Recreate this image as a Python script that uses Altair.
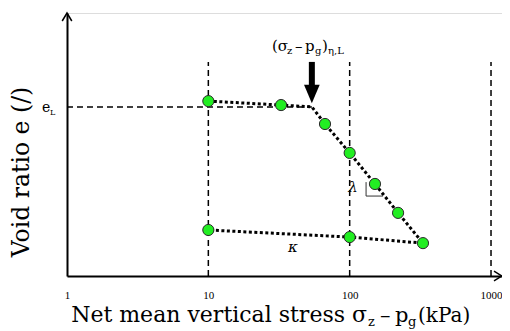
import altair as alt
import pandas as pd

# ---------------- data ----------------
stress = [10, 32.7, 54, 66.9, 100, 151, 220, 330, 100, 10]          # kPa
void_ratio = [0.665, 0.650, 0.643, 0.578, 0.468, 0.350, 0.240, 0.125, 0.148, 0.175]
measured = [True, True, False, True, True, True, True, True, True, True]
tick_values = [1, 10, 100, 1000]
guide_x = [10, 100, 1000]
guide_top = 0.814
e_L = 0.643
yield_stress = 54
X_MIN, X_MAX = 1, 1196
Y_MIN, Y_MAX = 0, 1
# lambda slope triangle corners (data units)
tri_x = [130.6, 130.6, 172]
tri_e = [0.357, 0.304, 0.304]

FONT = "DejaVu Serif"
TICK_FONT = "Liberation Serif"
OX, OY = 67, 13  # page position of plot origin (for outside-plot text)

df = pd.DataFrame({"s": stress, "e": void_ratio, "m": measured, "i": list(range(len(stress)))})
one = pd.DataFrame({"a": [0]})

xscale = alt.Scale(type="log", domain=[X_MIN, X_MAX], nice=False)
yscale = alt.Scale(domain=[Y_MIN, Y_MAX], nice=False)
xaxis = alt.Axis(values=tick_values, format="d", title=None, ticks=False, grid=False,
                 domainColor="black", domainWidth=2, labelFont=TICK_FONT, labelFontSize=11,
                 labelColor="black", labelPadding=13, labelFlush=False)
yaxis = alt.Axis(labels=False, ticks=False, grid=False, title=None,
                 domainColor="black", domainWidth=2)


def X(f="s"):
    return alt.X(f"{f}:Q", scale=xscale, axis=xaxis)


def Y(f="e"):
    return alt.Y(f"{f}:Q", scale=yscale, axis=yaxis)


# guide lines
vguides = alt.Chart(pd.DataFrame({"s": guide_x, "e": [0] * 3, "e2": [guide_top] * 3})).mark_rule(
    color="black", strokeWidth=1.5, strokeDash=[6, 4]).encode(x=X(), y=Y(), y2="e2:Q")
hguide = alt.Chart(pd.DataFrame({"s": [X_MIN], "s2": [yield_stress], "e": [e_L]})).mark_rule(
    color="black", strokeWidth=1.5, strokeDash=[6, 4]).encode(x=X(), x2="s2:Q", y=Y())

line = alt.Chart(df).mark_line(color="black", strokeWidth=3, strokeDash=[3, 2.5]).encode(
    x=X(), y=Y(), order="i:Q")
pts = alt.Chart(df[df.m]).mark_circle(size=125, color="#22ee22", stroke="#2a2a2a",
                                       strokeWidth=1, opacity=1).encode(x=X(), y=Y())

tri = alt.Chart(pd.DataFrame({"s": tri_x, "e": tri_e, "i": [0, 1, 2]})).mark_line(
    color="#333333", strokeWidth=1).encode(x=X(), y=Y(), order="i:Q")

# big arrow pointing at yield stress
arrow_shaft = alt.Chart(pd.DataFrame({"s": [yield_stress], "e": [guide_top], "e2": [0.71]})).mark_rule(
    color="black", strokeWidth=6).encode(x=X(), y=Y(), y2="e2:Q")
arrow_head = alt.Chart(pd.DataFrame({"s": [yield_stress], "e": [0.692]})).mark_point(
    shape="M-0.85,-1L0.85,-1L0,1Z", size=340, filled=True, color="black", opacity=1).encode(x=X(), y=Y())

# axis arrow heads
xarrow = alt.Chart(pd.DataFrame({"s": [X_MAX], "e": [Y_MIN]})).mark_point(
    shape="M-1,-0.6L0,0L-1,0.6", size=256, filled=False, color="black", strokeWidth=1.5,
    opacity=1).encode(x=X(), y=Y())
yarrow = alt.Chart(pd.DataFrame({"s": [X_MIN], "e": [Y_MAX]})).mark_point(
    shape="M-0.6,1L0,0L0.6,1", size=256, filled=False, color="black", strokeWidth=1.5,
    opacity=1).encode(x=X(), y=Y())


def ptext(text, px, py, size, align="left", baseline="alphabetic", style="normal", angle=0):
    kw = dict(text=text, font=FONT, fontSize=size, align=align, baseline=baseline,
              fontStyle=style, color="black")
    if angle:
        kw["angle"] = angle
    return alt.Chart(one).mark_text(**kw).encode(x=alt.value(px - OX), y=alt.value(py - OY))


def dtext(text, s, e, size, style="normal"):
    return alt.Chart(pd.DataFrame({"s": [s], "e": [e]})).mark_text(
        text=text, font=FONT, fontSize=size, fontStyle=style, color="black",
        align="center", baseline="middle").encode(x=X(), y=Y())


texts = [
    # x title
    ptext("Net mean vertical stress σ", 367, 322, 22, align="right"),
    ptext("z", 368, 326, 13),
    ptext("–", 380, 322, 21),
    ptext("p", 395, 322, 21),
    ptext("g", 408, 326, 13),
    ptext("(kPa)", 418, 322, 20),
    # y title
    ptext("Void ratio e (/)", 22, 172, 23.5, align="center", baseline="middle", angle=270),
    # e_L
    ptext("e", 42, 112, 14),
    ptext("L", 50, 115, 8),
    # yield label
    ptext("(σ", 272, 51, 15),
    ptext("z", 287, 54, 10),
    ptext("–", 295, 51, 15),
    ptext("p", 305, 51, 15),
    ptext("g", 315, 54, 10),
    ptext(")", 322, 51, 15),
    ptext("η,L", 328, 54, 10),
    # slope labels
    dtext("λ", 105.6, 0.338, 15, style="italic"),
    dtext("κ", 39.7, 0.110, 15, style="italic"),
]

chart = alt.layer(vguides, hguide, line, tri, pts, arrow_shaft, arrow_head, xarrow, yarrow,
                  *texts).properties(
    width=435, height=263,
    autosize=alt.AutoSizeParams(type="none"),
    padding={"left": 59, "top": 5, "right": 0, "bottom": 55},
).configure_view(stroke=None).configure(background="white")

chart.save("out.html", embed_options={"renderer": "svg", "actions": False})
